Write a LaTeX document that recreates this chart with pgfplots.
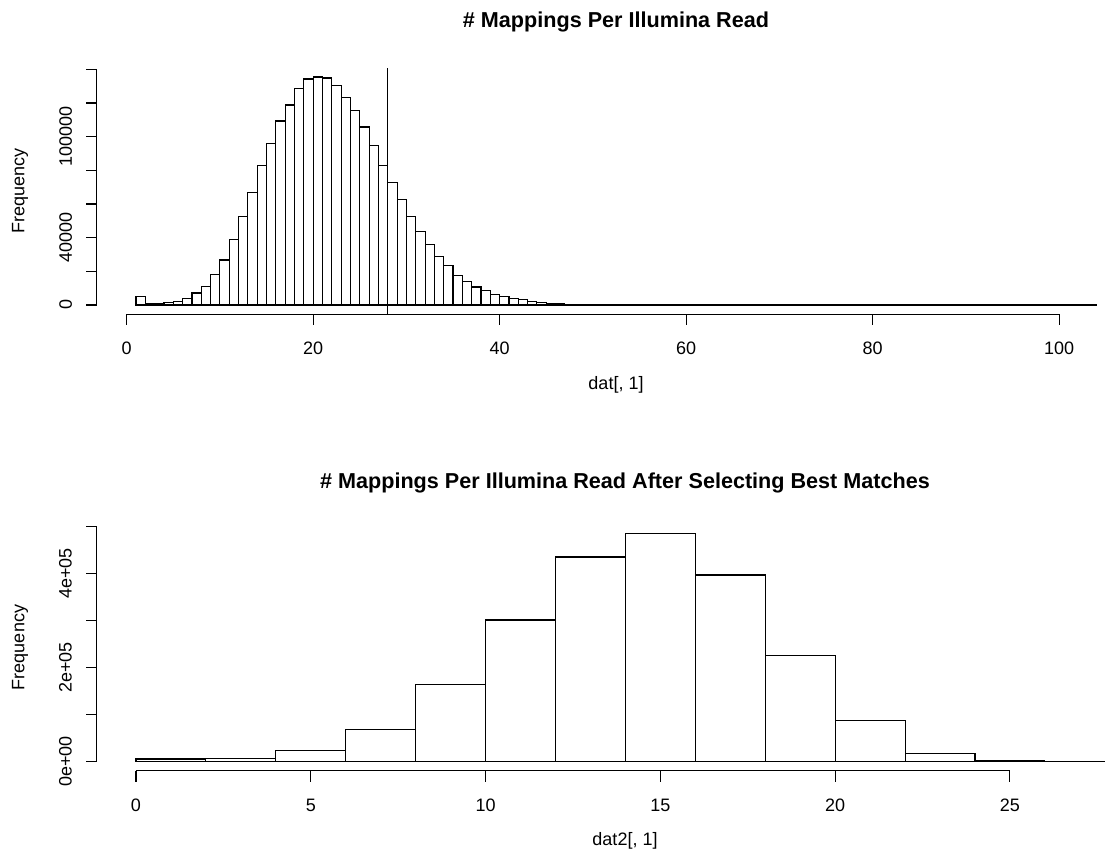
\documentclass[border=0pt]{standalone}
\usepackage{fontspec}
\setmainfont{Liberation Sans}
\usepackage{pgfplots}
\pgfplotsset{compat=1.18}
\newcommand\fs{\fontsize{18bp}{21.6bp}\selectfont}
\newcommand\ts{\fontsize{21.6bp}{26bp}\selectfont\bfseries}
\begin{document}
\begin{tikzpicture}[x=1bp,y=1bp]
\path[use as bounding box] (0,0) rectangle (1105,863);
% ---------------- top histogram ----------------
\begin{axis}[at={(96.87bp,548.7bp)}, anchor=south west, scale only axis,
  width=1008.13bp, height=246.35bp,
  xmin=-3.2, xmax=104.93, ymin=-5520, ymax=140800,
  hide axis, clip=false]
\addplot[ybar interval, draw=black, fill=white, line width=1.1bp] table {
x y
1 5000
2 800
3 1000
4 1400
5 2200
6 3800
7 7100
8 11100
9 18000
10 26700
11 38800
12 52300
13 66700
14 83000
15 96000
16 109300
17 118800
18 128700
19 134200
20 135400
21 134800
22 130200
23 123300
24 115400
25 105700
26 94600
27 82600
28 72900
29 62400
30 52700
31 43400
32 36000
33 28700
34 23200
35 17400
36 13900
37 10700
38 8500
39 6300
40 5100
41 3900
42 3000
43 2200
44 1600
45 1000
46 800
47 450
48 320
49 250
50 190
51 150
52 120
53 100
54 80
55 65
56 55
57 45
58 40
59 35
60 30
61 28
62 26
63 24
64 22
65 20
66 18
67 17
68 16
69 15
70 14
71 13
72 12
73 11
74 10
75 10
76 9
77 9
78 8
79 8
80 7
81 7
82 6
83 6
84 6
85 5
86 5
87 5
88 5
89 4
90 4
91 4
92 4
93 3
94 3
95 3
96 3
97 3
98 2
99 2
100 2
101 2
102 2
103 2
104 0
};
\addplot[black, line width=1.1bp] coordinates {(28,-5520) (28,140800)};
% x axis
\draw[line width=1.1bp] (axis cs:0,-5520) -- (axis cs:100,-5520);
\pgfplotsinvokeforeach{0,20,40,60,80,100}{
  \draw[line width=1.1bp] (axis cs:#1,-5520) -- ([yshift=-10.8bp]axis cs:#1,-5520);
  \node[font=\fs, anchor=base, inner sep=0pt] at ([yshift=-40.3bp]axis cs:#1,-5520) {#1};
}
% y axis
\draw[line width=1.1bp] (axis cs:-3.2,0) -- (axis cs:-3.2,140000);
\pgfplotsinvokeforeach{0,20000,40000,60000,80000,100000,120000,140000}{
  \draw[line width=1.1bp] (axis cs:-3.2,#1) -- ([xshift=-10.8bp]axis cs:-3.2,#1);
}
\pgfplotsinvokeforeach{0,40000,100000}{
  \node[font=\fs, rotate=90, anchor=base, inner sep=0pt] at ([xshift=-25bp]axis cs:-3.2,#1) {#1};
}
\end{axis}
% ---------------- bottom histogram ----------------
\begin{axis}[at={(96.7bp,92.2bp)}, anchor=south west, scale only axis,
  width=1008.3bp, height=246.7bp,
  xmin=-1.124, xmax=27.72, ymin=-19440, ymax=505440,
  hide axis, clip=false]
\addplot[ybar interval, draw=black, fill=white, line width=1.1bp] table {
x y
0 5700
2 7100
4 24100
6 68800
8 164500
10 301400
12 435500
14 485800
16 397200
18 226200
20 87200
22 17700
24 1400
26 300
28 0
};
\draw[line width=1.1bp] (axis cs:0,-19440) -- (axis cs:25,-19440);
\pgfplotsinvokeforeach{0,5,10,15,20,25}{
  \draw[line width=1.1bp] (axis cs:#1,-19440) -- ([yshift=-10.8bp]axis cs:#1,-19440);
  \node[font=\fs, anchor=base, inner sep=0pt] at ([yshift=-40.3bp]axis cs:#1,-19440) {#1};
}
\draw[line width=1.1bp] (axis cs:-1.124,0) -- (axis cs:-1.124,500000);
\pgfplotsinvokeforeach{0,100000,200000,300000,400000,500000}{
  \draw[line width=1.1bp] (axis cs:-1.124,#1) -- ([xshift=-10.8bp]axis cs:-1.124,#1);
}
\node[font=\fs, rotate=90, anchor=base, inner sep=0pt] at ([xshift=-25bp]axis cs:-1.124,0) {0e+00};
\node[font=\fs, rotate=90, anchor=base, inner sep=0pt] at ([xshift=-25bp]axis cs:-1.124,200000) {2e+05};
\node[font=\fs, rotate=90, anchor=base, inner sep=0pt] at ([xshift=-25bp]axis cs:-1.124,400000) {4e+05};
\end{axis}
% ---------------- titles and labels ----------------
\node[font=\ts, anchor=base, inner sep=0pt] at (616,835) {\# Mappings Per Illumina Read};
\node[font=\fs, anchor=base, inner sep=0pt] at (616,473) {dat[, 1]};
\node[font=\fs, rotate=90, anchor=base, inner sep=0pt] at (24.3,672) {Frequency};
\node[font=\ts, anchor=base, inner sep=0pt] at (625,374) {\# Mappings Per Illumina Read After Selecting Best Matches};
\node[font=\fs, anchor=base, inner sep=0pt] at (625,17) {dat2[, 1]};
\node[font=\fs, rotate=90, anchor=base, inner sep=0pt] at (24.3,215.5) {Frequency};
\end{tikzpicture}
\end{document}
